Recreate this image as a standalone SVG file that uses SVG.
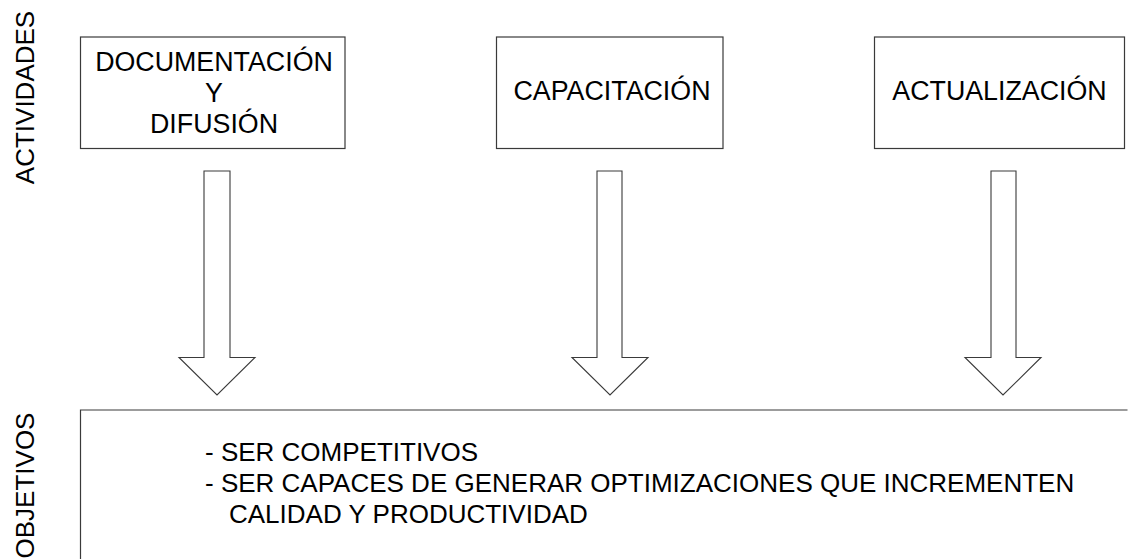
<svg xmlns="http://www.w3.org/2000/svg" width="1130" height="559" viewBox="0 0 1130 559">
<style>
.box{fill:#fff;stroke:#3a3a3a;stroke-width:1.2}
.arr{fill:#fff;stroke:#3a3a3a;stroke-width:1.1;stroke-linejoin:miter}
.t{font-family:"Liberation Sans",Arial,sans-serif;font-size:26px;fill:#000}
.b{font-size:26.8px}
.c{text-anchor:middle}
</style>
<rect width="1130" height="559" fill="#fff"/>
<g id="label-actividades"><text class="t c" transform="translate(33.5,97.5) rotate(-90)">ACTIVIDADES</text></g>
<g id="label-objetivos"><text class="t c" transform="translate(33.5,485.5) rotate(-90)">OBJETIVOS</text></g>
<g id="node-documentacion">
<rect class="box" x="80.5" y="37" width="264.5" height="111.5"/>
<text class="t b c" x="214" y="70.7">DOCUMENTACIÓN</text>
<text class="t b c" x="214" y="101.7">Y</text>
<text class="t b c" x="214" y="132.7">DIFUSIÓN</text>
</g>
<g id="node-capacitacion">
<rect class="box" x="496.5" y="37" width="226.5" height="111.5"/>
<text class="t b c" x="612" y="100">CAPACITACIÓN</text>
</g>
<g id="node-actualizacion">
<rect class="box" x="874.5" y="37" width="250" height="111.5"/>
<text class="t b c" x="999.5" y="100">ACTUALIZACIÓN</text>
</g>
<g id="node-objetivos">
<path class="box" d="M80.5,600 V410 H1127.5"/>
<text class="t" x="205" y="461">- SER COMPETITIVOS</text>
<text class="t" x="205" y="492">- SER CAPACES DE GENERAR OPTIMIZACIONES QUE INCREMENTEN</text>
<text class="t" x="229" y="523">CALIDAD Y PRODUCTIVIDAD</text>
</g>
<g id="connectors">
<polygon class="arr" points="204,171 230,171 230,357.5 255,357.5 217,395 179,357.5 204,357.5"/>
<polygon class="arr" points="597,171 622,171 622,357.5 648,357.5 610,395 572,357.5 597,357.5"/>
<polygon class="arr" points="991,171 1016,171 1016,357.5 1041,357.5 1003,395 965,357.5 991,357.5"/>
</g>
</svg>
